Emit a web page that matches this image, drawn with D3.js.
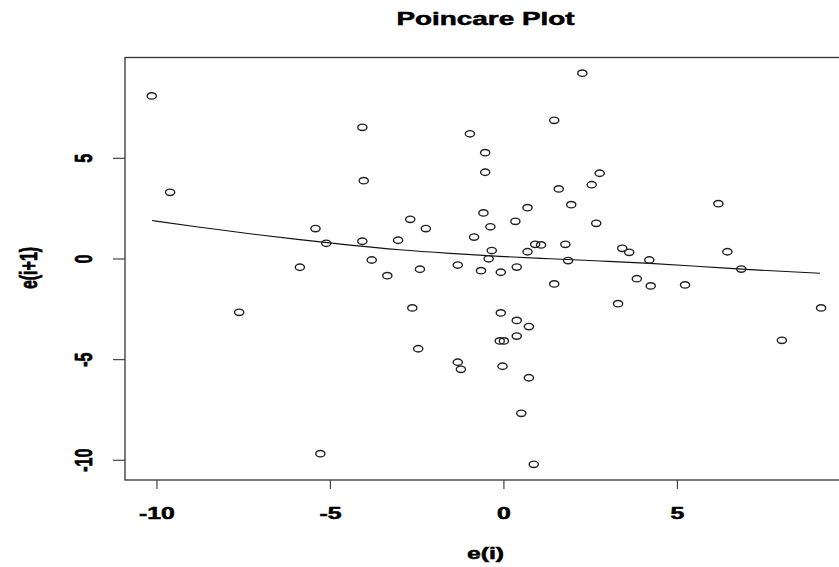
<!DOCTYPE html>
<html>
<head>
<meta charset="utf-8">
<script src="https://cdn.jsdelivr.net/npm/d3@7"></script>
<style>
  body { margin: 0; background: #fff; }
  svg { display: block; }
  text { font-family: "Liberation Sans", Arial, sans-serif; font-weight: bold; fill: #000; stroke: #000; stroke-width: 0.5px; }
</style>
</head>
<body>
<svg width="839" height="567"></svg>
<script>
// Data set: residual pairs (e(i), e(i+1))
var ei = [-10.15, -9.62, -5.43, -5.12, -5.88, -7.63, -5.29, -4.08, -4.04, -4.08,
          -3.81, -3.36, -3.05, -2.70, -2.25, -2.42, -2.64, -2.47, -0.98, -0.54,
          -0.54, -0.59, -0.39, -0.86, -0.35, -0.44, -1.33, -0.66, -0.09, 0.37,
          -0.09, 0.37, 0.72, 0.37, -0.12, 0.00, -1.33, -1.24, -0.04, 0.72,
          0.50, 0.86, 0.33, 0.68, 0.68, 0.90, 1.07, 1.45, 2.26, 1.58,
          1.94, 1.77, 1.85, 1.45, 2.76, 2.53, 2.66, 3.41, 3.61, 3.29,
          3.83, 4.19, 4.23, 5.22, 6.18, 6.44, 6.84, 8.01, 9.14];
var ei1 = [8.10, 3.31, 1.51, 0.78, -0.41, -2.65, -9.67, 6.54, 3.89, 0.88,
           -0.05, -0.83, 0.93, 1.97, 1.51, -0.51, -2.43, -4.46, 6.22, 5.28,
           4.31, 2.29, 1.60, 1.09, 0.42, 0.01, -0.30, -0.58, -0.66, -0.40,
           -2.68, -3.05, -3.36, -3.83, -4.07, -4.07, -5.13, -5.48, -5.33, -5.90,
           -7.67, -10.20, 1.87, 2.55, 0.36, 0.73, 0.70, 6.89, 9.23, 3.48,
           2.70, 0.73, -0.08, -1.24, 4.26, 3.69, 1.77, 0.53, 0.33, -2.22,
           -0.98, -0.05, -1.34, -1.29, 2.75, 0.36, -0.50, -4.04, -2.43];

// lowess smooth
var smoothX = [-10.14, -8.76, -7.32, -5.88, -4.44, -3.00, -1.56, -0.12, 1.33, 2.77, 4.21, 5.65, 7.09, 9.11];
var smoothY = [1.91, 1.58, 1.25, 0.96, 0.69, 0.46, 0.28, 0.13, 0.01, -0.10, -0.22, -0.37, -0.53, -0.71];

var xTicks = [-10, -5, 0, 5];
var yTicks = [-10, -5, 0, 5];

var title = "Poincare Plot";
var xLabel = "e(i)";
var yLabel = "e(i+1)";

var svg = d3.select("svg");
var stretch = 1.55;   // the original is drawn wider than tall

var xScale = d3.scaleLinear().domain([-10.92, 9.87]).range([125, 846.4]);
var yScale = d3.scaleLinear().domain([-10.98, 10.01]).range([480, 57.5]);

// helper for horizontally stretched text
function label(x, y, str, size, rot) {
  svg.append("text")
    .attr("transform", "translate(" + x + "," + y + ") scale(" + stretch + ",1)" + (rot ? " rotate(-90)" : ""))
    .attr("text-anchor", "middle")
    .attr("font-size", size + "px")
    .text(str);
}

// plot box
svg.append("rect")
  .attr("x", xScale.range()[0])
  .attr("y", yScale.range()[1])
  .attr("width", xScale.range()[1] - xScale.range()[0])
  .attr("height", yScale.range()[0] - yScale.range()[1])
  .attr("fill", "none")
  .attr("stroke", "#333")
  .attr("stroke-width", 1.3);

// x axis ticks + labels
svg.selectAll(".xt")
  .data(xTicks)
  .enter()
  .append("line")
  .attr("x1", function(d) { return xScale(d); })
  .attr("x2", function(d) { return xScale(d); })
  .attr("y1", 480)
  .attr("y2", 489)
  .attr("stroke", "#444")
  .attr("stroke-width", 1.2);

xTicks.forEach(function(d) {
  label(xScale(d), 518.5, d, 16, false);
});

// y axis ticks + labels
svg.selectAll(".yt")
  .data(yTicks)
  .enter()
  .append("line")
  .attr("x1", 113)
  .attr("x2", 125)
  .attr("y1", function(d) { return yScale(d); })
  .attr("y2", function(d) { return yScale(d); })
  .attr("stroke", "#444")
  .attr("stroke-width", 1.2);

yTicks.forEach(function(d) {
  label(92, yScale(d), d, 16, true);
});

// titles
label(485.5, 25, title, 18, false);
label(485.5, 559, xLabel, 16, false);
label(37, 268, yLabel, 16, true);

// smooth line
var smooth = smoothX.map(function(x, i) { return [x, smoothY[i]]; });
svg.append("path")
  .datum(smooth)
  .attr("fill", "none")
  .attr("stroke", "#111")
  .attr("stroke-width", 1.1)
  .attr("d", d3.line()
    .curve(d3.curveMonotoneX)
    .x(function(d) { return xScale(d[0]); })
    .y(function(d) { return yScale(d[1]); }));

// points
var pts = ei.map(function(x, i) { return [x, ei1[i]]; });
svg.selectAll("ellipse")
  .data(pts)
  .enter()
  .append("ellipse")
  .attr("cx", function(d) { return xScale(d[0]); })
  .attr("cy", function(d) { return yScale(d[1]); })
  .attr("rx", 4.6)
  .attr("ry", 3.2)
  .attr("fill", "none")
  .attr("stroke", "#222")
  .attr("stroke-width", 1.4);
</script>
</body>
</html>
